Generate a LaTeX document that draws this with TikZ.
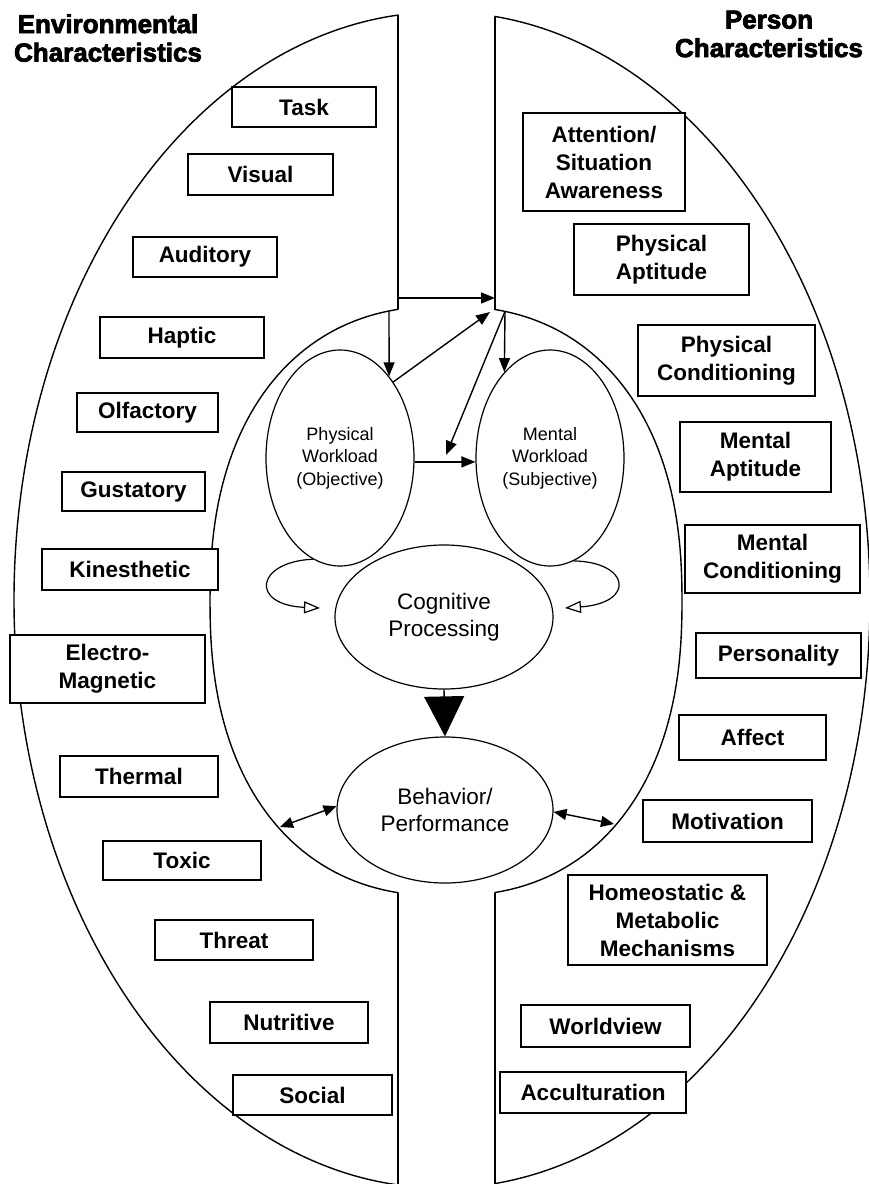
\documentclass[tikz,border=0pt]{standalone}
\usepackage{fontspec}
\setmainfont{Liberation Sans}
\newfontfamily\headfont{Liberation Sans Bold}[FakeBold=3]
\usetikzlibrary{arrows.meta,shapes.geometric}
\tikzset{
  outl/.style={line width=1.4pt},
  ebox/.style={draw, line width=1.6pt, fill=white, inner sep=0pt, align=center,
    font=\fontsize{22.5}{28}\selectfont\bfseries},
  oval/.style={draw, ellipse, line width=1.2pt, inner sep=0pt, align=center},
  smalltxt/.style={font=\fontsize{18}{22.5}\selectfont},
  bigtxt/.style={font=\fontsize{22.5}{27}\selectfont},
  arr/.style={line width=1.4pt, -{Triangle[length=14pt,width=11pt]}},
  dbl/.style={line width=1.4pt, {Triangle[length=13pt,width=11pt]}-{Triangle[length=13pt,width=11pt]}},
  looparr/.style={line width=1.2pt, -{Triangle[open,length=16pt,width=12pt]}},
  bigarr/.style={line width=1.4pt, -{Triangle[length=40pt,width=40pt]}},
  head/.style={font=\headfont\fontsize{26}{28.5}\selectfont, align=center}
}
\begin{document}
\begin{tikzpicture}[x=1pt,y=-1pt]
\useasboundingbox (0,0) rectangle (869,1184);
\fill[white] (0,0) rectangle (869,1184);

% outer and inner boundaries, with the central channel cut out
\begin{scope}
  \clip (-10,-10) rectangle (398.7,1200) (494.3,-10) rectangle (880,1200);
  \draw[outl] (442,600) ellipse [x radius=428, y radius=588];
  \draw[outl] plot[domain=1:361, samples=200]
    ({446 + 236*cos(\x)*abs(cos(\x))^(-0.1304)}, {601 + 295*sin(\x)*abs(sin(\x))^(-0.1304)});
\end{scope}
\coordinate (LT) at (398,15.1);
\coordinate (LI) at (398,309.3);
\coordinate (LB) at (398,892.7);
\coordinate (LO) at (398,1185);
\coordinate (RT) at (495,16.5);
\coordinate (RI) at (495,309.5);
\coordinate (RB) at (495,892.5);
\coordinate (RO) at (495,1184);
\draw[outl] (LT) -- (LI);
\draw[outl] (LB) -- (LO);
\draw[outl] (RT) -- (RI);
\draw[outl] (RB) -- (RO);

% headings
\node[head] (envh) at (108,38) {Environmental\\Characteristics};
\node[head] (perh) at (769,34) {Person\\Characteristics};

% environmental boxes
\node[ebox, minimum width=144pt, minimum height=40pt] (task) at (304,107) {Task};
\node[ebox, minimum width=145pt, minimum height=41pt] (visual) at (260.5,174.5) {Visual};
\node[ebox, minimum width=144pt, minimum height=40pt] (auditory) at (205,257) {Auditory};
\node[ebox, minimum width=164pt, minimum height=41pt] (haptic) at (182,337.5) {Haptic};
\node[ebox, minimum width=141pt, minimum height=39pt] (olfactory) at (147.5,412.5) {Olfactory};
\node[ebox, minimum width=143pt, minimum height=39pt] (gustatory) at (133.5,491.5) {Gustatory};
\node[ebox, minimum width=176pt, minimum height=41pt] (kines) at (130,569.5) {Kinesthetic};
\node[ebox, minimum width=195pt, minimum height=68pt] (electro) at (107.5,669) {Electro-\\Magnetic};
\node[ebox, minimum width=158pt, minimum height=41pt] (thermal) at (139,776.5) {Thermal};
\node[ebox, minimum width=158pt, minimum height=39pt] (toxic) at (182,860.5) {Toxic};
\node[ebox, minimum width=158pt, minimum height=40pt] (threat) at (234,940) {Threat};
\node[ebox, minimum width=158pt, minimum height=41pt] (nutritive) at (289,1022.5) {Nutritive};
\node[ebox, minimum width=159pt, minimum height=40pt] (social) at (312.5,1095) {Social};

% person boxes
\node[ebox, minimum width=162pt, minimum height=98pt] (attention) at (604,162) {Attention/\\Situation\\Awareness};
\node[ebox, minimum width=175pt, minimum height=71pt] (physapt) at (661.5,259.5) {Physical\\Aptitude};
\node[ebox, minimum width=177pt, minimum height=71pt] (physcond) at (726.5,360.5) {Physical\\Conditioning};
\node[ebox, minimum width=151pt, minimum height=70pt] (mentapt) at (755.5,457) {Mental\\Aptitude};
\node[ebox, minimum width=175pt, minimum height=68pt] (mentcond) at (772.5,559) {Mental\\Conditioning};
\node[ebox, minimum width=165pt, minimum height=45pt] (personality) at (778.5,655.5) {Personality};
\node[ebox, minimum width=147pt, minimum height=45pt] (affect) at (752.5,737.5) {Affect};
\node[ebox, minimum width=169pt, minimum height=42pt] (motivation) at (727.5,821) {Motivation};
\node[ebox, minimum width=199pt, minimum height=90pt] (homeo) at (667.5,920) {Homeostatic \&\\Metabolic\\Mechanisms};
\node[ebox, minimum width=169pt, minimum height=42pt] (worldview) at (605.5,1026) {Worldview};
\node[ebox, minimum width=186pt, minimum height=41pt] (accult) at (593,1092.5) {Acculturation};

% central ellipses
\node[oval, smalltxt, minimum width=148pt, minimum height=216pt] (phys) at (340,458) {Physical\\Workload\\(Objective)};
\node[oval, smalltxt, minimum width=148pt, minimum height=216pt] (ment) at (550,458) {Mental\\Workload\\(Subjective)};
\node[oval, bigtxt, minimum width=218pt, minimum height=144pt] (cog) at (444,617) {Cognitive\\Processing};
\node[oval, bigtxt, minimum width=216pt, minimum height=146pt] (beh) at (445,810) {Behavior/\\Performance};

% connectors
\coordinate (jl) at (389,310.9);
\coordinate (jr) at (505,311.4);
\coordinate (tipA) at (490,312);
\coordinate (tipB) at (446,455);
\coordinate (hl) at (398,298);
\coordinate (hr) at (495,298);
\coordinate (lpL) at (320,608);
\coordinate (lpR) at (565,608);
\coordinate (bl) at (280,827);
\coordinate (br) at (614,824);

\draw[arr] (hl) -- (hr);
\draw[arr] (jl) -- (phys.59);
\draw[arr] (phys.55) -- (tipA);
\draw[arr] (jr) -- (ment.118);
\draw[arr] (jr) -- (tipB);
\draw[arr] (phys.-3) -- (ment.183);
\draw[looparr] (phys.255) .. controls (255,562) and (250,605) .. (lpL);
\draw[looparr] (ment.283) .. controls (630,562) and (636,603) .. (lpR);
\draw[bigarr] (cog.south) -- (beh.north);
\draw[dbl] (beh.178) -- (bl);
\draw[dbl] (beh.-1) -- (br);
\end{tikzpicture}
\end{document}
